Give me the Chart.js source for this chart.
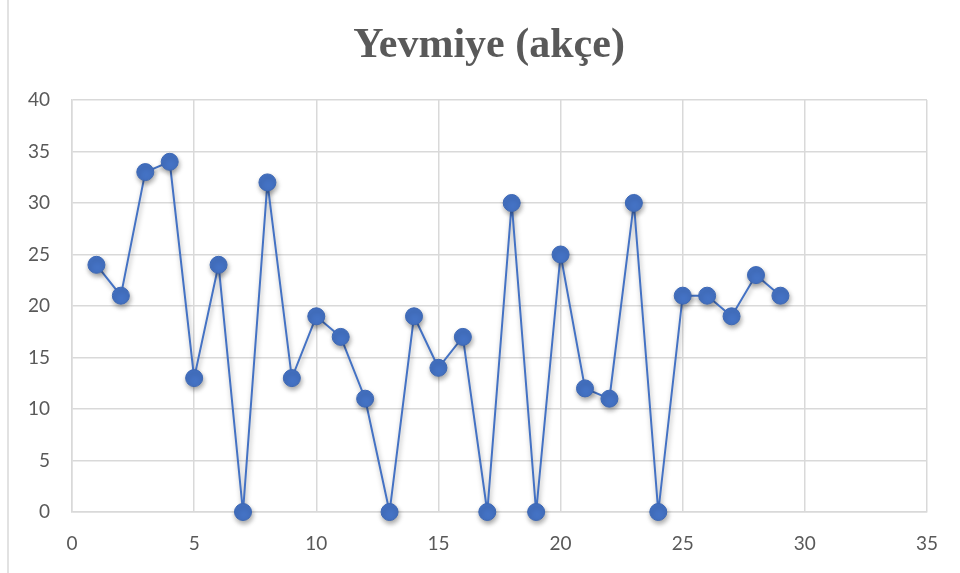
<!DOCTYPE html>
<html>
<head>
<meta charset="utf-8">
<script src="https://cdn.jsdelivr.net/npm/chart.js@4.4.1/dist/chart.umd.min.js"></script>
<style>
  html, body { margin: 0; padding: 0; background: #fff; }
  #wrap { width: 960px; height: 573px; position: relative; }
</style>
</head>
<body>
<div id="wrap"><canvas id="chart"></canvas></div>
<script>
// gün numaraları ve yevmiye değerleri
var gunler = [1, 2, 3, 4, 5, 6, 7, 8, 9, 10, 11, 12, 13, 14, 15, 16, 17, 18, 19, 20, 21, 22, 23, 24, 25, 26, 27, 28, 29];
var yevmiye = [24, 21, 33, 34, 13, 24, 0, 32, 13, 19, 17, 11, 0, 19, 14, 17, 0, 30, 0, 25, 12, 11, 30, 0, 21, 21, 19, 23, 21];
var xTicks = [0, 5, 10, 15, 20, 25, 30, 35];
var yTicks = [0, 5, 10, 15, 20, 25, 30, 35, 40];
var baslik = 'Yevmiye (akçe)';

var points = gunler.map(function (g, i) { return { x: g, y: yevmiye[i] }; });

var frame = {
    id: 'frame',
    beforeDraw: function (chart) {
        var ctx = chart.ctx;
        ctx.save();
        ctx.strokeStyle = '#d9d9d9';
        ctx.lineWidth = 1.5;
        ctx.beginPath();
        ctx.moveTo(8, 0);
        ctx.lineTo(8, chart.height);
        ctx.stroke();
        // başlık
        ctx.fillStyle = '#595959';
        ctx.font = 'bold 42px "Liberation Serif", serif';
        ctx.textAlign = 'center';
        ctx.textBaseline = 'middle';
        ctx.fillText(baslik, 489, 46);
        ctx.restore();
    },
    beforeDatasetsDraw: function (chart) {
        var ctx = chart.ctx;
        ctx.save();
        ctx.shadowColor = 'rgba(0,0,0,0.35)';
        ctx.shadowBlur = 5;
        ctx.shadowOffsetX = 1;
        ctx.shadowOffsetY = 3;
    },
    afterDatasetsDraw: function (chart) {
        chart.ctx.restore();
    }
};

var chart = new Chart('chart', {
    type: 'scatter',
    data: {
        datasets: [
            {
                data: points,
                showLine: true,
                clip: false,
                borderColor: '#4472C4',
                borderWidth: 2,
                pointBackgroundColor: '#4472C4',
                pointBorderColor: '#3d68b5',
                pointBorderWidth: 1,
                pointRadius: 8.5,
                pointHoverRadius: 8.5
            }
        ]
    },
    options: {
        responsive: true,
        maintainAspectRatio: false,
        animation: false,
        layout: { padding: { left: 0, right: 33, top: 100, bottom: 0 } },
        plugins: {
            legend: { display: false },
            tooltip: { enabled: false },
            title: { display: false }
        },
        scales: {
            x: {
                type: 'linear',
                min: 0,
                max: 35,
                afterBuildTicks: function (axis) {
                    axis.ticks = xTicks.map(function (v) { return { value: v }; });
                },
                afterFit: function (axis) { axis.height = 61; },
                grid: { color: '#d9d9d9', lineWidth: 1.5, drawTicks: false },
                border: { color: '#d9d9d9', width: 1.5 },
                ticks: {
                    color: '#595959',
                    padding: 20,
                    font: { family: 'Lato, "Liberation Sans", sans-serif', size: 19 }
                }
            },
            y: {
                min: 0,
                max: 40,
                afterBuildTicks: function (axis) {
                    axis.ticks = yTicks.map(function (v) { return { value: v }; });
                },
                afterFit: function (axis) { axis.width = 72; },
                grid: { color: '#d9d9d9', lineWidth: 1.5, drawTicks: false },
                border: { color: '#d9d9d9', width: 1.5 },
                ticks: {
                    color: '#595959',
                    padding: 22,
                    font: { family: 'Lato, "Liberation Sans", sans-serif', size: 19 }
                }
            }
        }
    },
    plugins: [frame]
});
</script>
</body>
</html>
